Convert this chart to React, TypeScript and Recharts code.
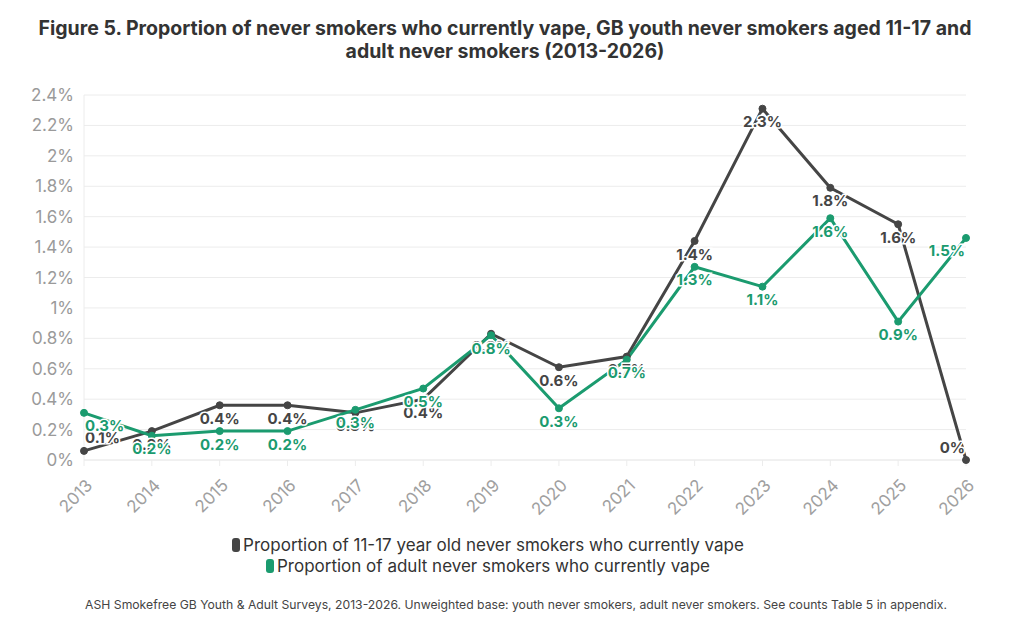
import { LineChart, Line, XAxis, YAxis, CartesianGrid, LabelList } from 'recharts'

const years = ['2013', '2014', '2015', '2016', '2017', '2018', '2019', '2020', '2021', '2022', '2023', '2024', '2025', '2026']
// percent values
const youthValues = [0.06, 0.19, 0.36, 0.36, 0.31, 0.4, 0.83, 0.61, 0.68, 1.44, 2.31, 1.79, 1.55, 0]
const adultValues = [0.31, 0.16, 0.19, 0.19, 0.33, 0.47, 0.82, 0.34, 0.66, 1.27, 1.14, 1.59, 0.91, 1.46]
const yTicks = [0, 0.2, 0.4, 0.6, 0.8, 1, 1.2, 1.4, 1.6, 1.8, 2, 2.2, 2.4]

const series = [
  { key: 'youth', name: 'Proportion of 11-17 year old never smokers who currently vape', color: '#454545' },
  { key: 'adult', name: 'Proportion of adult never smokers who currently vape', color: '#1b9b6f' },
]

const data = years.map((year, i) => ({ year, youth: youthValues[i], adult: adultValues[i] }))

const FONT = 'Inter, "Noto Sans", sans-serif'
const formatPct = (v: number) => `${Number(v.toFixed(1))}%`

// labels sit under the point, flip above near the floor, and stay inside the plot at both ends
const makeLabel = (color: string) => (props: any) => {
  const { x, y, value, index } = props
  const dy = value < 0.1 ? -13 : 13
  let anchor: 'start' | 'middle' | 'end' = 'middle'
  if (index === 0) anchor = 'start'
  if (index === years.length - 1) anchor = 'end'
  return (
    <text
      x={x + (anchor === 'start' ? 1 : anchor === 'end' ? -1 : 0)}
      y={y + dy}
      textAnchor={anchor}
      dominantBaseline="central"
      fontSize={15}
      fontWeight={700}
      fill={color}
      stroke="#fff"
      strokeWidth={3}
      paintOrder="stroke"
      fontFamily={FONT}
    >
      {formatPct(value)}
    </text>
  )
}

export default function App() {
  return (
    <div style={{ position: 'absolute', left: 0, top: 0, width: 1024, height: 634, background: '#fff', fontFamily: FONT }}>
      <div
        style={{
          position: 'absolute',
          top: 17,
          left: 0,
          width: 1010,
          textAlign: 'center',
          fontSize: 19.5,
          fontWeight: 700,
          lineHeight: '23px',
          color: '#333',
        }}
      >
        Figure 5. Proportion of never smokers who currently vape, GB youth never smokers aged 11-17 and
        <br />
        adult never smokers (2013-2026)
      </div>
      <div style={{ position: 'absolute', left: 0, top: 0 }}>
        <LineChart width={1024} height={520} data={data} margin={{ top: 95, right: 58, bottom: 0, left: 8 }}>
          <CartesianGrid vertical={false} stroke="#ececec" />
          <XAxis
            dataKey="year"
            height={60}
            interval={0}
            axisLine={{ stroke: '#ececec' }}
            tickLine={{ stroke: '#ececec' }}
            tickSize={6}
            tick={{ fontSize: 17, fill: '#a0a0a0', fontFamily: FONT, angle: -45, textAnchor: 'end', dx: 1, dy: 10 }}
          />
          <YAxis
            width={76}
            domain={[0, 2.4]}
            ticks={yTicks}
            interval={0}
            tickFormatter={formatPct}
            axisLine={{ stroke: '#ececec' }}
            tickLine={false}
            tickMargin={4}
            tick={{ fontSize: 17, fill: '#9a9a9a', fontFamily: FONT }}
          />
          {series.map((s) => (
            <Line
              key={s.key}
              type="linear"
              dataKey={s.key}
              name={s.name}
              stroke={s.color}
              strokeWidth={3}
              dot={{ r: 3.5, fill: s.color, stroke: s.color, strokeWidth: 1 }}
              isAnimationActive={false}
            >
              <LabelList dataKey={s.key} content={makeLabel(s.color)} />
            </Line>
          ))}
        </LineChart>
      </div>
      <div style={{ position: 'absolute', top: 535, left: 0, width: 976, textAlign: 'center', fontSize: 17, color: '#333', lineHeight: '21px' }}>
        {series.map((s) => (
          <div key={s.key}>
            <span
              style={{ display: 'inline-block', width: 8, height: 14, borderRadius: 3, background: s.color, marginRight: 3, verticalAlign: -1 }}
            />
            {s.name}
          </div>
        ))}
      </div>
      <div style={{ position: 'absolute', top: 597, left: 0, width: 1032, textAlign: 'center', fontSize: 12.2, color: '#444' }}>
        ASH Smokefree GB Youth &amp; Adult Surveys, 2013-2026. Unweighted base: youth never smokers, adult never smokers. See counts Table 5 in appendix.
      </div>
    </div>
  )
}
